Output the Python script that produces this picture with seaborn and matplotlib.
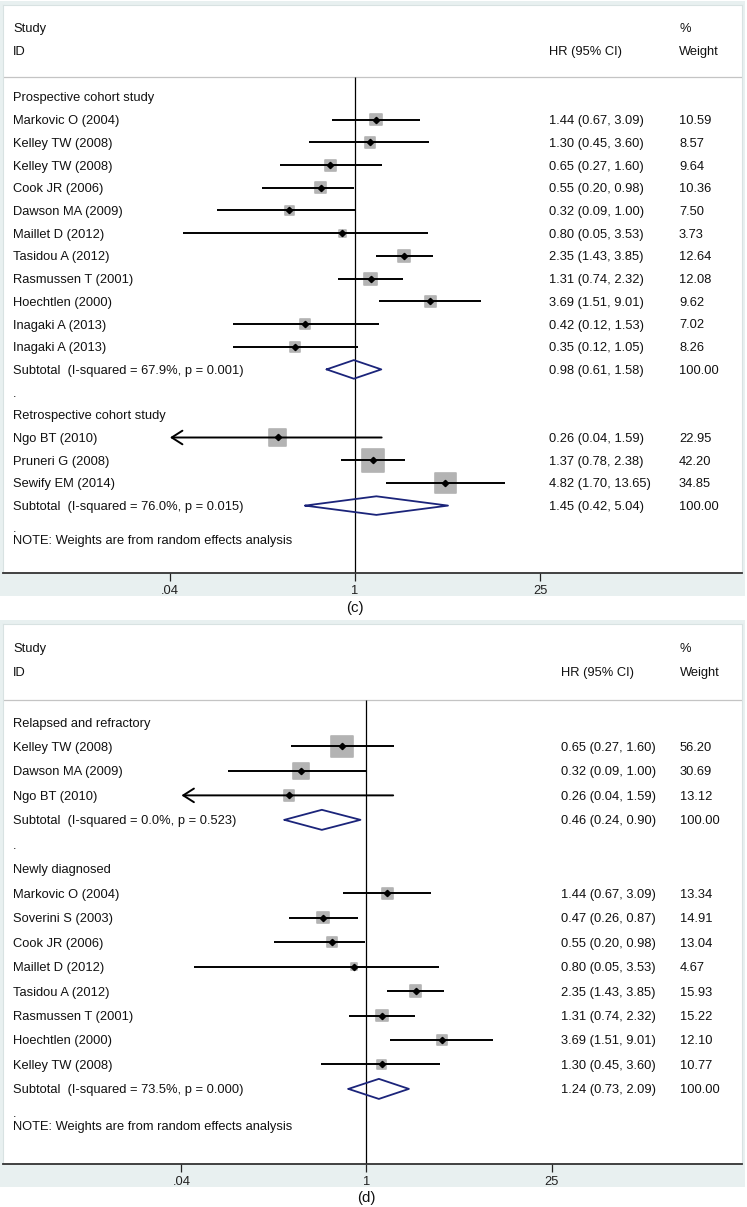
import numpy as np
import pandas as pd
import matplotlib
matplotlib.use("Agg")
import matplotlib.pyplot as plt
import seaborn as sns
from matplotlib.patches import Rectangle

# ---- panel (c): study design ----
c_groups = ["Prospective cohort study", "Retrospective cohort study"]
c_labels = ["Markovic O (2004)", "Kelley TW (2008)", "Kelley TW (2008)", "Cook JR (2006)",
            "Dawson MA (2009)", "Maillet D (2012)", "Tasidou A (2012)", "Rasmussen T (2001)",
            "Hoechtlen (2000)", "Inagaki A (2013)", "Inagaki A (2013)",
            "Ngo BT (2010)", "Pruneri G (2008)", "Sewify EM (2014)"]
c_group = [0] * 11 + [1] * 3
c_hr = [1.44, 1.30, 0.65, 0.55, 0.32, 0.80, 2.35, 1.31, 3.69, 0.42, 0.35, 0.26, 1.37, 4.82]
c_lo = [0.67, 0.45, 0.27, 0.20, 0.09, 0.05, 1.43, 0.74, 1.51, 0.12, 0.12, 0.04, 0.78, 1.70]
c_hi = [3.09, 3.60, 1.60, 0.98, 1.00, 3.53, 3.85, 2.32, 9.01, 1.53, 1.05, 1.59, 2.38, 13.65]
c_wt = [10.59, 8.57, 9.64, 10.36, 7.50, 3.73, 12.64, 12.08, 9.62, 7.02, 8.26, 22.95, 42.20, 34.85]
c_sub_labels = ["Subtotal  (I-squared = 67.9%, p = 0.001)", "Subtotal  (I-squared = 76.0%, p = 0.015)"]
c_sub_hr = [0.98, 1.45]
c_sub_lo = [0.61, 0.42]
c_sub_hi = [1.58, 5.04]

# ---- panel (d): disease status ----
d_groups = ["Relapsed and refractory", "Newly diagnosed"]
d_labels = ["Kelley TW (2008)", "Dawson MA (2009)", "Ngo BT (2010)",
            "Markovic O (2004)", "Soverini S (2003)", "Cook JR (2006)", "Maillet D (2012)",
            "Tasidou A (2012)", "Rasmussen T (2001)", "Hoechtlen (2000)", "Kelley TW (2008)"]
d_group = [0] * 3 + [1] * 8
d_hr = [0.65, 0.32, 0.26, 1.44, 0.47, 0.55, 0.80, 2.35, 1.31, 3.69, 1.30]
d_lo = [0.27, 0.09, 0.04, 0.67, 0.26, 0.20, 0.05, 1.43, 0.74, 1.51, 0.45]
d_hi = [1.60, 1.00, 1.59, 3.09, 0.87, 0.98, 3.53, 3.85, 2.32, 9.01, 3.60]
d_wt = [56.20, 30.69, 13.12, 13.34, 14.91, 13.04, 4.67, 15.93, 15.22, 12.10, 10.77]
d_sub_labels = ["Subtotal  (I-squared = 0.0%, p = 0.523)", "Subtotal  (I-squared = 73.5%, p = 0.000)"]
d_sub_hr = [0.46, 1.24]
d_sub_lo = [0.24, 0.73]
d_sub_hi = [0.90, 2.09]

x_ticks = [0.04, 1, 25]
x_ticklabels = [".04", "1", "25"]

sns.set_theme(style="white")
plt.rcParams["font.family"] = ["Liberation Sans", "DejaVu Sans"]

W, H = 747, 1207
FS = 9.3
BAND = "#e8f0f0"
BOX = "#b3b3b3"
NAVY = "#1b247a"
PX_PER_LN = 57.5

fig = plt.figure(figsize=(W / 100, H / 100), dpi=100)
fig.patch.set_facecolor("white")


def add_panel(top, bottom, band_bottom, one_px, row0, row_h, hr_col, wt_col, k_box,
              groups, labels, group, hr, lo, hi, wt, sub_labels, sub_hr, sub_lo, sub_hi, tag, tag_y):
    # bluish frame behind the panel
    fig.patches.append(Rectangle((0, 1 - band_bottom / H), 745 / W, (band_bottom - top + 4) / H,
                                 transform=fig.transFigure, facecolor=BAND, edgecolor="none", zorder=-10))
    left, right = 3, 742
    ax = fig.add_axes([left / W, 1 - bottom / H, (right - left) / W, (bottom - top) / H])
    ax.set_facecolor("white")
    ax.set_xscale("log")
    ax.set_xlim(np.exp((left - one_px) / PX_PER_LN), np.exp((right - one_px) / PX_PER_LN))
    y_top = (top - row0) / row_h
    y_bot = (bottom - row0) / row_h

    # build row table
    rows = []
    r = 0
    for g, gname in enumerate(groups):
        rows.append(dict(kind="head", row=r, label=gname)); r += 1
        for i in range(len(labels)):
            if group[i] == g:
                rows.append(dict(kind="study", row=r, label=labels[i], hr=hr[i], lo=lo[i], hi=hi[i], wt=wt[i])); r += 1
        rows.append(dict(kind="sub", row=r, label=sub_labels[g], hr=sub_hr[g], lo=sub_lo[g], hi=sub_hi[g], wt=100.0)); r += 1
        if g < len(groups) - 1:
            rows.append(dict(kind="dot", row=r, label=".")); r += 1
    df = pd.DataFrame(rows)
    last = r

    tx = ax.get_yaxis_transform()
    lab_x = (13 - left) / (right - left)
    hr_x = (hr_col - left) / (right - left)
    wt_x = (wt_col - left) / (right - left)

    # header
    for txt, xx, yy in [("Study", lab_x, -3.05), ("ID", lab_x, -2.05), ("HR (95% CI)", hr_x, -2.05),
                        ("%", wt_x, -3.05), ("Weight", wt_x, -2.05)]:
        ax.text(xx, yy, txt, transform=tx, fontsize=FS, va="center_baseline", ha="left", color="#111111")
    line_y = -0.9
    ax.axhline(line_y, color="#c4c4c4", lw=0.9, zorder=1)
    ax.vlines(1, line_y, y_bot, color="black", lw=0.9, zorder=1)

    for _, rw in df.iterrows():
        ax.text(lab_x, rw["row"], rw["label"], transform=tx, fontsize=FS, va="center_baseline",
                ha="left", color="#111111")
        if rw["kind"] in ("study", "sub"):
            ax.text(hr_x, rw["row"], f"{rw['hr']:.2f} ({rw['lo']:.2f}, {rw['hi']:.2f})", transform=tx,
                    fontsize=FS, va="center_baseline", ha="left", color="#111111")
            ax.text(wt_x, rw["row"], f"{rw['wt']:.2f}", transform=tx, fontsize=FS,
                    va="center_baseline", ha="left", color="#111111")

    st = df[df["kind"] == "study"]
    # grey weight boxes, area proportional to weight
    sns.scatterplot(data=st, x="hr", y="row", size="wt", size_norm=(0, 100),
                    sizes=(0, 0.5184 * k_box ** 2 * 100), marker="s", color=BOX,
                    edgecolor=BOX, linewidth=1.2, legend=False, ax=ax, zorder=2)
    for _, rw in st.iterrows():
        if rw["lo"] <= x_ticks[0]:
            ax.annotate("", xy=(x_ticks[0], rw["row"]), xytext=(rw["hi"], rw["row"]),
                        arrowprops=dict(arrowstyle="->,head_length=0.55,head_width=0.35",
                                        lw=1.4, color="black", mutation_scale=14,
                                        shrinkA=0, shrinkB=0), zorder=3)
        else:
            ax.plot([rw["lo"], rw["hi"]], [rw["row"], rw["row"]], color="black", lw=1.4,
                    solid_capstyle="butt", zorder=3)
    ax.plot(st["hr"], st["row"], ls="none", marker="D", ms=3.2, color="black", zorder=4)

    sb = df[df["kind"] == "sub"]
    hh = 0.41
    for _, rw in sb.iterrows():
        ax.plot([rw["lo"], rw["hr"], rw["hi"], rw["hr"], rw["lo"]],
                [rw["row"], rw["row"] - hh, rw["row"], rw["row"] + hh, rw["row"]],
                color=NAVY, lw=1.3, zorder=3)

    # trailing dot and note
    ax.text(lab_x, last - 0.05, ".", transform=tx, fontsize=FS, va="center_baseline", ha="left", color="#111111")
    ax.text(lab_x, last + 0.5, "NOTE: Weights are from random effects analysis", transform=tx,
            fontsize=FS, va="center_baseline", ha="left", color="#111111")

    ax.set_ylim(y_bot, y_top)
    ax.set_yticks([])
    ax.set_xticks(x_ticks)
    ax.set_xticklabels(x_ticklabels)
    ax.xaxis.set_minor_locator(matplotlib.ticker.NullLocator())
    ax.tick_params(axis="x", direction="out", length=5.5, width=0.9, pad=3, labelsize=FS,
                   colors="#222222", bottom=True)
    for s in ["top", "left", "right"]:
        ax.spines[s].set_color("#d8e2e2")
        ax.spines[s].set_linewidth(0.8)
    ax.spines["bottom"].set_color("#333333")
    ax.spines["bottom"].set_linewidth(1.3)
    ax.set_xlabel("")
    ax.set_ylabel("")
    fig.text(one_px / W, 1 - tag_y / H, tag, fontsize=FS + 1.5, ha="center", va="center", color="#111111")
    return ax


add_panel(5, 573, 596, 355, 97, 22.7, 549, 679, 3.5,
          c_groups, c_labels, c_group, c_hr, c_lo, c_hi, c_wt,
          c_sub_labels, c_sub_hr, c_sub_lo, c_sub_hi, "(c)", 608)
add_panel(624, 1164, 1187, 366.5, 722, 24.46, 561, 680, 2.9,
          d_groups, d_labels, d_group, d_hr, d_lo, d_hi, d_wt,
          d_sub_labels, d_sub_hr, d_sub_lo, d_sub_hi, "(d)", 1198)

fig.savefig("out.png", dpi=100, facecolor="white")
